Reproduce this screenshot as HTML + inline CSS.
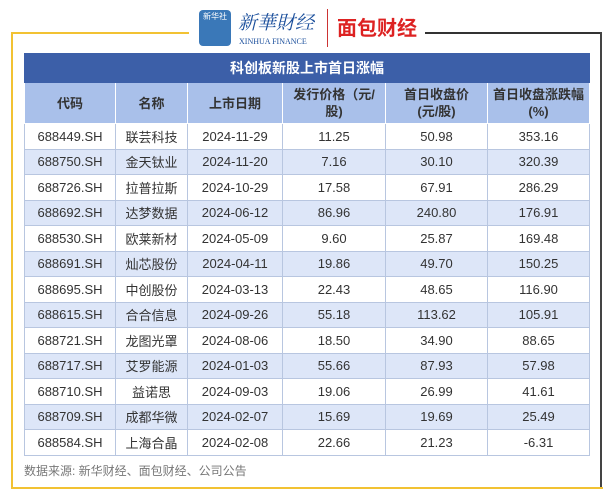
<!DOCTYPE html>
<html><head><meta charset="utf-8"><style>
body{margin:0;width:611px;height:500px;background:#fff;position:relative;font-family:"Liberation Sans","Noto Sans CJK SC",sans-serif;overflow:hidden}
.abs{position:absolute}
table{position:absolute;left:24px;top:53px;width:565px;border-collapse:collapse;table-layout:fixed}
td{border:1px solid #b8c6e0;text-align:center;font-size:13px;color:#333;height:24.5px;padding:0}
tr.h td{background:#a9c0ea;color:#333;font-weight:bold;height:40px;line-height:17px;font-size:13px;border-color:#fff}
tr.t td{background:#3c5fa8;color:#fff;font-weight:bold;height:28px;font-size:14px;border-color:#3c5fa8}
tr.a td{background:#dde6f8}
</style></head><body>
<div class="abs" style="left:11px;top:32px;width:178px;height:2px;background:#f2c233"></div>
<div class="abs" style="left:11px;top:32px;width:2px;height:457px;background:#f2c233"></div>
<div class="abs" style="left:11px;top:487px;width:592px;height:2px;background:#f2c233"></div>
<div class="abs" style="left:425px;top:32px;width:177px;height:2px;background:#333"></div>
<div class="abs" style="left:600px;top:32px;width:2px;height:455px;background:#444"></div>
<div class="abs" style="left:199px;top:10px;width:32px;height:36px;background:#3a78b8;border-radius:4px;color:#fff;font-size:8px;text-align:center;line-height:14px">新华社</div>
<div class="abs" style="left:238px;top:8px;font-size:19px;color:#1b4f9c;font-family:'Noto Serif CJK SC',serif;font-style:italic">新華財经</div>
<div class="abs" style="left:239px;top:37px;font-size:8px;color:#1b4f9c;font-family:'Liberation Serif',serif">XINHUA FINANCE</div>
<div class="abs" style="left:327px;top:9px;width:1px;height:38px;background:#c33"></div>
<div class="abs" style="left:337px;top:12px;font-size:20px;font-weight:bold;color:#d22">面包财经</div>
<table>
<colgroup><col style="width:91px"><col style="width:72px"><col style="width:95px"><col style="width:103px"><col style="width:102px"><col style="width:102px"></colgroup>
<tr class="t"><td colspan="6">科创板新股上市首日涨幅</td></tr>
<tr class="h"><td>代码</td><td>名称</td><td>上市日期</td><td>发行价格（元/<br>股)</td><td>首日收盘价<br>(元/股)</td><td>首日收盘涨跌幅<br>(%)</td></tr>
<tr><td>688449.SH</td><td>联芸科技</td><td>2024-11-29</td><td>11.25</td><td>50.98</td><td>353.16</td></tr>
<tr class="a"><td>688750.SH</td><td>金天钛业</td><td>2024-11-20</td><td>7.16</td><td>30.10</td><td>320.39</td></tr>
<tr><td>688726.SH</td><td>拉普拉斯</td><td>2024-10-29</td><td>17.58</td><td>67.91</td><td>286.29</td></tr>
<tr class="a"><td>688692.SH</td><td>达梦数据</td><td>2024-06-12</td><td>86.96</td><td>240.80</td><td>176.91</td></tr>
<tr><td>688530.SH</td><td>欧莱新材</td><td>2024-05-09</td><td>9.60</td><td>25.87</td><td>169.48</td></tr>
<tr class="a"><td>688691.SH</td><td>灿芯股份</td><td>2024-04-11</td><td>19.86</td><td>49.70</td><td>150.25</td></tr>
<tr><td>688695.SH</td><td>中创股份</td><td>2024-03-13</td><td>22.43</td><td>48.65</td><td>116.90</td></tr>
<tr class="a"><td>688615.SH</td><td>合合信息</td><td>2024-09-26</td><td>55.18</td><td>113.62</td><td>105.91</td></tr>
<tr><td>688721.SH</td><td>龙图光罩</td><td>2024-08-06</td><td>18.50</td><td>34.90</td><td>88.65</td></tr>
<tr class="a"><td>688717.SH</td><td>艾罗能源</td><td>2024-01-03</td><td>55.66</td><td>87.93</td><td>57.98</td></tr>
<tr><td>688710.SH</td><td>益诺思</td><td>2024-09-03</td><td>19.06</td><td>26.99</td><td>41.61</td></tr>
<tr class="a"><td>688709.SH</td><td>成都华微</td><td>2024-02-07</td><td>15.69</td><td>19.69</td><td>25.49</td></tr>
<tr><td>688584.SH</td><td>上海合晶</td><td>2024-02-08</td><td>22.66</td><td>21.23</td><td>-6.31</td></tr>
</table>
<div class="abs" style="left:24px;top:462px;font-size:12px;color:#777">数据来源: 新华财经、面包财经、公司公告</div>
</body></html>
